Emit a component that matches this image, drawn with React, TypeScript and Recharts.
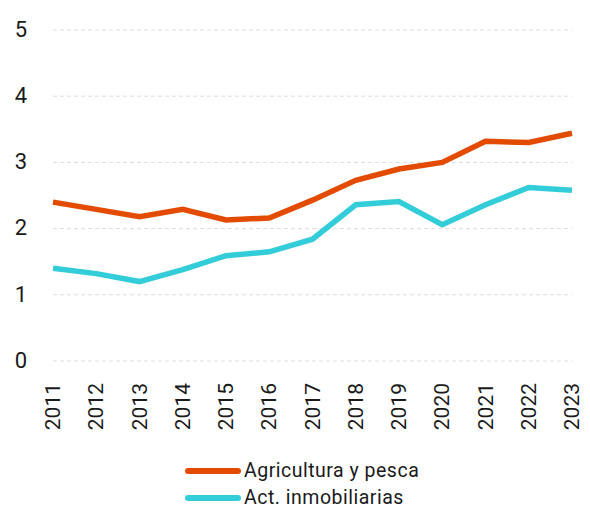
import React from 'react';
import { LineChart, Line, XAxis, YAxis, CartesianGrid, Legend } from 'recharts';

const years = ['2011','2012','2013','2014','2015','2016','2017','2018','2019','2020','2021','2022','2023'];
const agricultura = [2.40, 2.29, 2.18, 2.29, 2.13, 2.16, 2.43, 2.73, 2.90, 3.00, 3.32, 3.30, 3.44];
const inmobiliarias = [1.40, 1.32, 1.20, 1.38, 1.59, 1.65, 1.84, 2.36, 2.41, 2.06, 2.36, 2.62, 2.58];
const yTicks = [0, 1, 2, 3, 4, 5];

const seriesNames = ['Agricultura y pesca', 'Act. inmobiliarias'];
const colors = ['#E34C00', '#33CDD9'];

const data = years.map((y, i) => ({ year: y, a: agricultura[i], b: inmobiliarias[i] }));

const XTick = (props: any) => {
  const { x, y, payload } = props;
  const ty = y + 22;
  return (
    <text
      x={x}
      y={ty}
      transform={`rotate(-90, ${x}, ${ty})`}
      textAnchor="end"
      dominantBaseline="central"
      fontSize={21}
      fill="#1a1a1a"
      fontFamily="Roboto"
    >
      {payload.value}
    </text>
  );
};

const LegendContent = () => (
  <div style={{ fontFamily: 'Roboto', fontSize: 19.5, letterSpacing: 0.5, color: '#1a1a1a' }}>
    {seriesNames.map((n, i) => (
      <div key={n} style={{ display: 'flex', alignItems: 'center', height: 27 }}>
        <div style={{ width: 56, height: 6, borderRadius: 3, background: colors[i], marginRight: 3 }} />
        <span>{n}</span>
      </div>
    ))}
  </div>
);

export default function App() {
  return (
    <div style={{ position: 'absolute', left: 0, top: 0, background: '#fff' }}>
      <LineChart width={590} height={508} data={data} margin={{ top: 30, right: 18, left: 0, bottom: 87 }}>
        <CartesianGrid vertical={false} stroke="#dddddd" strokeDasharray="4 3" />
        <XAxis
          dataKey="year"
          axisLine={false}
          tickLine={false}
          tickSize={0}
          tickMargin={0}
          height={60}
          interval={0}
          tick={<XTick />}
        />
        <YAxis
          domain={[0, 5]}
          ticks={yTicks}
          width={53}
          axisLine={false}
          tickLine={false}
          tickSize={0}
          tickMargin={26}
          tick={{ fontSize: 22, fill: '#1a1a1a', fontFamily: 'Roboto', dy: -1 }}
        />
        <Legend
          layout="horizontal"
          verticalAlign="middle"
          align="center"
          content={<LegendContent />}
          wrapperStyle={{ top: 457, left: 185, width: 340 }}
        />
        <Line dataKey="a" name={seriesNames[0]} stroke={colors[0]} strokeWidth={5.5} dot={false} isAnimationActive={false} />
        <Line dataKey="b" name={seriesNames[1]} stroke={colors[1]} strokeWidth={5.5} dot={false} isAnimationActive={false} />
      </LineChart>
    </div>
  );
}
